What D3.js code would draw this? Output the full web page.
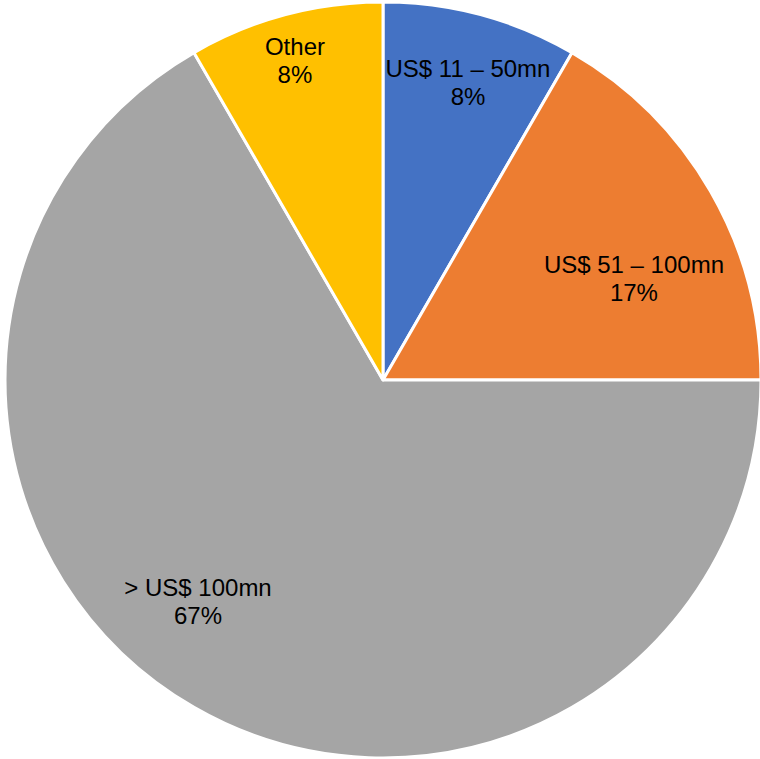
<!DOCTYPE html>
<html>
<head>
<meta charset="utf-8">
<script src="https://cdn.jsdelivr.net/npm/d3@7"></script>
<style>
html,body{margin:0;padding:0;background:#fff;}
svg{display:block;}
</style>
</head>
<body>
<svg id="chart" width="760" height="759"></svg>
<script>
const categories = ["US$ 11 – 50mn", "US$ 51 – 100mn", "> US$ 100mn", "Other"];
const values = [1, 2, 8, 1];
const percentLabels = ["8%", "17%", "67%", "8%"];
const colors = ["#4472C4", "#ED7D31", "#A5A5A5", "#FFC000"];
// label placement: [angle in degrees from top, clockwise; radius fraction]
const labelPlacement = [[15.95, 0.818], [68.0, 0.716], [219.9, 0.763], [344.6, 0.877]];

const cx = 383, cy = 380, R = 378;
const svg = d3.select("#chart");
const g = svg.append("g").attr("transform", `translate(${cx},${cy})`);

const data = categories.map((c, i) => ({ name: c, value: values[i], pct: percentLabels[i], color: colors[i], lp: labelPlacement[i] }));
const pie = d3.pie().value(d => d.value).sort(null);
const arc = d3.arc().innerRadius(0).outerRadius(R);
const arcs = pie(data);

g.selectAll("path").data(arcs).enter().append("path")
  .attr("d", arc)
  .attr("fill", d => d.data.color)
  .attr("stroke", "#fff")
  .attr("stroke-width", 3)
  .attr("stroke-linejoin", "round");

const labels = g.selectAll("text.lbl").data(arcs).enter().append("text")
  .attr("class", "lbl")
  .attr("text-anchor", "middle")
  .attr("font-family", "'Liberation Sans', Arial, sans-serif")
  .attr("font-size", 24)
  .attr("fill", "#000")
  .attr("transform", d => {
    const a = d.data.lp[0] * Math.PI / 180, r = d.data.lp[1] * R;
    return `translate(${r * Math.sin(a)},${-r * Math.cos(a)})`;
  });
labels.append("tspan").attr("x", 0).attr("y", -5.5).text(d => d.data.name);
labels.append("tspan").attr("x", 0).attr("y", 22.5).text(d => d.data.pct);
</script>
</body>
</html>
